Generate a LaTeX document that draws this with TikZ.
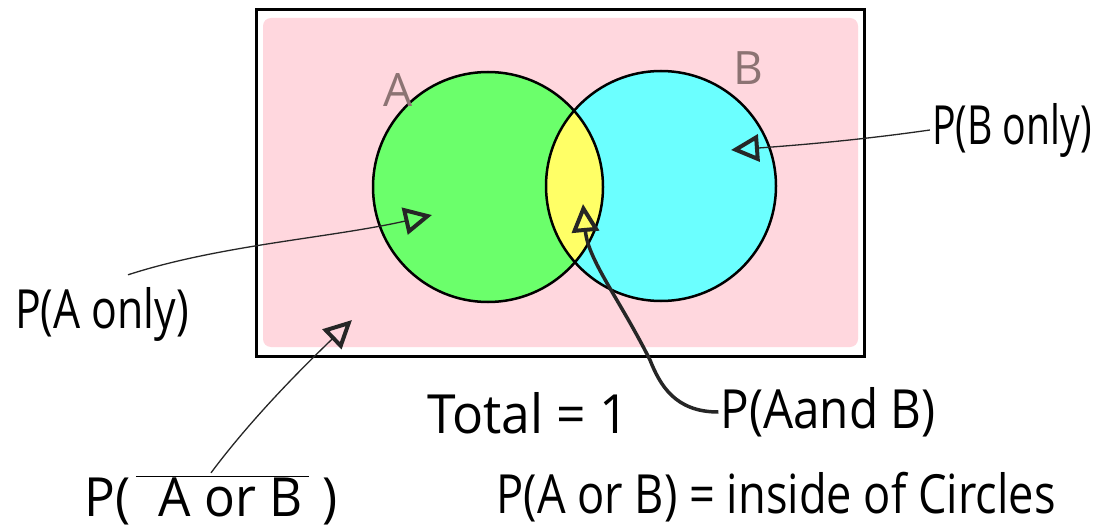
\documentclass[tikz,border=0pt]{standalone}
\usepackage{fontspec}
\setmainfont{Open Sans}
\usetikzlibrary{arrows.meta}
\definecolor{venpink}{HTML}{FFD7DE}
\definecolor{vengreen}{HTML}{6BFF6B}
\definecolor{vencyan}{HTML}{6BFFFF}
\definecolor{venyellow}{HTML}{FFFF66}
\definecolor{setgrey}{HTML}{8C7373}
\newcommand\hand[2][1]{\scalebox{#1}[1.35]{#2}}
\begin{document}
\begin{tikzpicture}[x=1pt,y=-1pt,
  lbl/.style={font=\fontsize{40}{44}\selectfont,inner sep=2pt},
  setname/.style={font=\fontsize{46}{46}\selectfont,text=setgrey,inner sep=0pt},
  pointer/.style={-{Triangle[open,length=28pt,width=27pt,line width=4pt]},draw=black!85,line width=1.3pt},
  ring/.style={draw=black,line width=2.5pt}
]
\useasboundingbox (0,0) rectangle (1103,532);
\fill[white] (0,0) rectangle (1103,532);
\fill[venpink,rounded corners=8pt] (263,18) rectangle (858,347);
\coordinate (ca) at (488,187);
\coordinate (cb) at (661,186);
\fill[vengreen] (ca) circle[radius=115pt];
\fill[vencyan] (cb) circle[radius=115pt];
\begin{scope}
  \clip (ca) circle[radius=115pt];
  \fill[venyellow] (cb) circle[radius=115pt];
\end{scope}
\draw[ring] (ca) circle[radius=115pt];
\draw[ring] (cb) circle[radius=115pt];
\draw[line width=3pt] (256,10) rectangle (864,356);
\node[setname] (nameA) at (398,90) {A};
\node[setname] (nameB) at (748,68) {B};

\node[lbl] (aonly) at (102,314) {\hand[1.07]{P(A only)}};
\node[lbl] (bonly) at (1012,130) {\hand[0.98]{P(B only)}};
\node[lbl] (aandb) at (828,412) {\hand[1.19]{P(Aand B)}};
\node[lbl] (total) at (528,413) {\hand[1.29]{Total = 1}};
\node[lbl] (union) at (776,497) {\hand[1.13]{P(A or B) = inside of Circles}};
\node[lbl] (neither) at (211,500) {\hand[1.28]{P(\hspace{4pt}$\overline{\mbox{\hspace{18pt}A or B\hspace{5pt}}}$\hspace{10pt})}};

\coordinate (aonlytip) at (432,215);
\coordinate (bonlytip) at (731,150);
\coordinate (abtip) at (583,204);
\coordinate (neithertip) at (352,320);
\draw[pointer] ([xshift=26pt,yshift=10pt]aonly.north) .. controls (220,245) and (330,238) .. (aonlytip);
\draw[pointer] (bonly.west) .. controls (860,140) and (800,145) .. (bonlytip);
\draw[pointer,line width=3.5pt] (aandb.west) .. controls (675,412) and (660,385) .. (650,360)
  .. controls (620,300) and (588,260) .. (abtip);
\draw[pointer] (neither.north) .. controls (252,418) and (302,368) .. (neithertip);
\end{tikzpicture}
\end{document}
